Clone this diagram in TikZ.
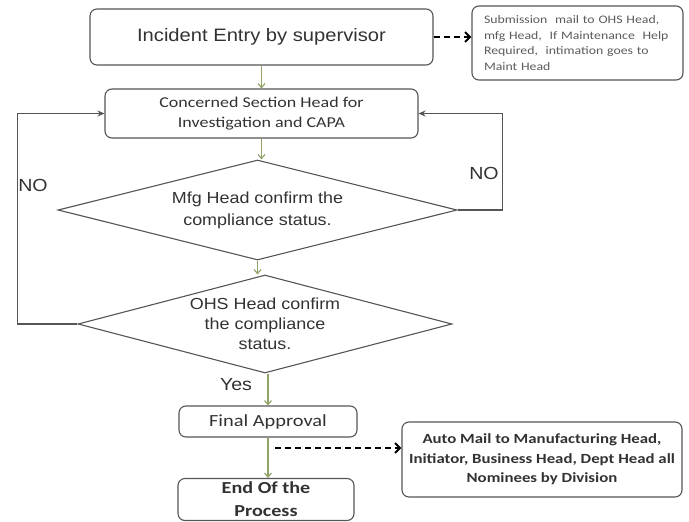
\documentclass[tikz,border=0pt]{standalone}
\usepackage{fontspec}
\setmainfont[FakeStretch=1.12]{Liberation Sans}
\newfontfamily\calibri[FakeStretch=1.2]{Carlito}
\usetikzlibrary{shapes.geometric,arrows.meta}
\definecolor{edge}{RGB}{85,85,85}
\definecolor{ink}{RGB}{50,50,50}
\definecolor{flowgreen}{RGB}{145,165,105}
\begin{document}
\begin{tikzpicture}[x=1pt,y=-1pt,
  box/.style={draw=edge,line width=1.1pt,rounded corners=7pt,align=center,text=ink,inner sep=0pt},
  decision/.style={draw=edge,line width=1.1pt,diamond,aspect=4,inner sep=0pt,align=center,text=ink,
    font=\fontsize{16}{22}\selectfont},
  flow/.style={draw=flowgreen,line width=1.2pt,-{Straight Barb[length=4pt,width=7pt]}},
  loopback/.style={draw=edge,line width=1.6pt,-{Stealth[length=7pt,width=6pt]}},
  notify/.style={draw=black,line width=2pt,dash pattern=on 6pt off 4pt,-{Straight Barb[length=5pt,width=10pt]}},
  lbl/.style={text=ink,font=\fontsize{17.5}{20}\selectfont,inner sep=0pt}]
\useasboundingbox (0,0) rectangle (689,522);

% process boxes
\node[box,minimum width=343pt,minimum height=56pt,font=\fontsize{18}{22}\selectfont]
  (entry) at (261.5,37) {Incident Entry by supervisor};
\node[box,minimum width=211pt,minimum height=74pt,text width=187pt,align=left,
  font=\calibri\fontsize{11.5}{15.5}\selectfont,text=ink!80]
  (submit) at (577.5,43) {Submission\ \ mail to OHS Head,\\mfg Head,\ \ If Maintenance\ \ Help\\Required,\ \ intimation goes to\\Maint Head};
\node[box,minimum width=313pt,minimum height=49pt,font=\calibri\fontsize{15}{20}\selectfont]
  (section) at (261.5,113.5) {Concerned Section Head for\\Investigation and CAPA};

% decisions
\node[decision,minimum width=399pt,minimum height=100pt]
  (mfg) at (257.5,210) {Mfg Head confirm the\\compliance status.};
\node[decision,minimum width=374pt,minimum height=98pt,font=\fontsize{16}{20}\selectfont]
  (ohs) at (265,324) {OHS Head confirm\\the compliance\\status.};

% closing steps
\node[box,minimum width=178pt,minimum height=31pt,font=\calibri\fontsize{17}{20}\selectfont]
  (final) at (268,421.5) {Final Approval};
\node[box,minimum width=176pt,minimum height=42pt,font=\calibri\bfseries\fontsize{16.8}{23}\selectfont]
  (finish) at (266,499.5) {End Of the\\Process};
\node[box,minimum width=280pt,minimum height=75pt,font=\calibri\bfseries\fontsize{14}{19.5}\selectfont]
  (automail) at (542,459.5) {Auto Mail to Manufacturing Head,\\Initiator, Business Head, Dept Head all\\Nominees by Division};

% main flow
\draw[flow] (entry.south) -- (entry.south |- section.north);
\draw[flow] (section.south) -- (section.south |- mfg.north);
\draw[flow] (mfg.south) -- (mfg.south |- ohs.north);
\draw[flow] (final.north |- ohs.south) -- (final.north);
\draw[flow] (final.south) -- (final.south |- finish.north);

% rejection loops
\draw[loopback] (mfg.east) -- ++(45,0) |- (section.east);
\draw[loopback] (ohs.west) -- ++(-60,0) |- (section.west);
\node[lbl] (noright) at (484,173) {NO};
\node[lbl] (noleft) at (33,185) {NO};
\node[lbl] (yes) at (236,385) {Yes};

% mail notifications
\draw[notify] (entry.east) -- (entry.east -| submit.west);
\coordinate (mailtap) at (275,448);
\draw[notify] (mailtap) -- (mailtap -| automail.west);
\end{tikzpicture}
\end{document}
